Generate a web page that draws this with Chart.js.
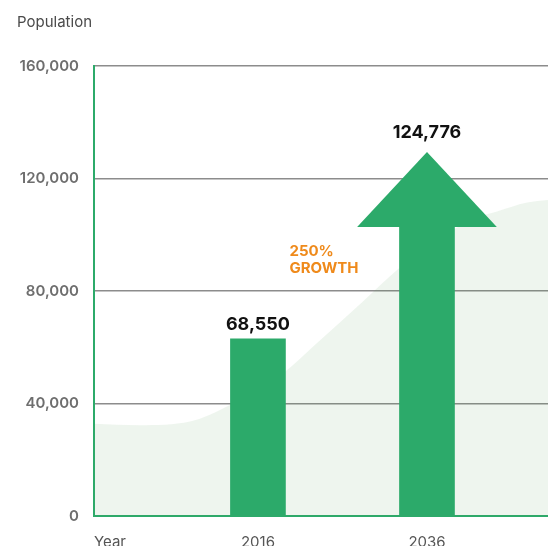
<!DOCTYPE html>
<html><head><meta charset="utf-8">
<script src="https://cdn.jsdelivr.net/npm/chart.js@4.4.0/dist/chart.umd.min.js"></script>
<style>
html,body{margin:0;padding:0;overflow:hidden;background:#fff;width:548px;height:546px}
#wrap{position:absolute;left:0;top:0;width:548px;height:560px}
</style>
</head><body><div id="wrap"><canvas id="c" width="548" height="560"></canvas></div>
<script>
// ---- data ----
const yAxisTitle = 'Population';
const xAxisTitle = 'Year';
const years = ['2016', '2036'];
const yearPositions = [1, 2];
const populationLabels = [68550, 124776];
const barTops = [63000, 102600];      // drawn height of 2016 bar and of the 2036 arrow shaft
const arrowTip = 129400;              // drawn tip of the 2036 arrow
const growthText = ['250%', 'GROWTH'];
const curveX = [0.030, 0.302, 0.598, 0.834, 1.160, 1.325, 1.621, 1.828, 2.077, 2.314, 2.414, 2.592, 2.716];
const curveY = [32800, 32300, 33600, 39500, 51300, 60200, 76300, 87700, 99000, 106500, 108300, 111500, 112400];
const yTicks = [0, 40000, 80000, 120000, 160000];
const xMin = 0.030, xMax = 2.716;

// ---- style ----
const GREEN = '#2CAA6A';
const ORANGE = '#EF8A1B';
const FONT = 'Inter, "Open Sans", sans-serif';
const HEAD_RATIO = 2.54;
const fmt = v => v.toLocaleString('en-US');

const overlay = {
  id: 'overlay',
  afterDatasetsDraw(chart) {
    const ctx = chart.ctx;
    const ys = chart.scales.y;
    const meta = chart.getDatasetMeta(1);
    const b0 = meta.data[0], b1 = meta.data[1];
    const half = b1.width * HEAD_RATIO / 2;
    const baseY = ys.getPixelForValue(barTops[1]) - 0.5;
    const tipY = ys.getPixelForValue(arrowTip);
    ctx.save();
    ctx.fillStyle = GREEN;
    ctx.beginPath();
    ctx.moveTo(b1.x - half, baseY);
    ctx.lineTo(b1.x, tipY);
    ctx.lineTo(b1.x + half, baseY);
    ctx.closePath();
    ctx.fill();
    ctx.font = '700 18px ' + FONT;
    ctx.fillStyle = '#111';
    ctx.textAlign = 'center';
    ctx.textBaseline = 'alphabetic';
    ctx.fillText(fmt(populationLabels[0]), b0.x, b0.y - 9);
    ctx.fillText(fmt(populationLabels[1]), b1.x, tipY - 14);
    ctx.font = '700 15px ' + FONT;
    ctx.fillStyle = ORANGE;
    ctx.textAlign = 'left';
    const gx = b0.x + b0.width / 2 + 4;
    ctx.fillText(growthText[0], gx, b0.y - 83);
    ctx.fillText(growthText[1], gx, b0.y - 66);
    ctx.restore();
  },
  afterDraw(chart) {
    const ctx = chart.ctx;
    ctx.save();
    ctx.font = '400 15px ' + FONT;
    ctx.fillStyle = '#4a4a4a';
    ctx.textAlign = 'left';
    ctx.textBaseline = 'alphabetic';
    ctx.fillText(yAxisTitle, 17, 27);
    ctx.restore();
  }
};

const xTickValues = [xMin, ...yearPositions, xMax];
const xTickLabels = [xAxisTitle, ...years, ''];

new Chart(document.getElementById('c'), {
  type: 'bar',
  data: {
    datasets: [
      {
        type: 'line',
        data: curveX.map((x, i) => ({ x, y: curveY[i] })),
        fill: 'origin',
        backgroundColor: 'rgba(85,155,85,0.1)',
        borderColor: 'rgba(0,0,0,0)',
        borderWidth: 0,
        pointRadius: 0,
        cubicInterpolationMode: 'monotone',
        order: 2
      },
      {
        type: 'bar',
        data: yearPositions.map((x, i) => ({ x, y: barTops[i] })),
        backgroundColor: GREEN,
        barThickness: 55,
        order: 1
      }
    ]
  },
  options: {
    responsive: false,
    animation: false,
    devicePixelRatio: 1,
    layout: { padding: { top: 66, left: 0, right: 0, bottom: 0 } },
    plugins: { legend: { display: false }, tooltip: { enabled: false } },
    scales: {
      x: {
        type: 'linear',
        offset: false,
        min: xMin, max: xMax,
        afterBuildTicks: s => { s.ticks = xTickValues.map(v => ({ value: v })); },
        afterFit: s => { s.height = 44; s.paddingLeft = 0; s.paddingRight = 0; },
        grid: { display: false, offset: false },
        border: { display: true, color: GREEN, width: 2 },
        ticks: {
          autoSkip: false, maxRotation: 0, align: 'inner', padding: 9,
          font: { family: FONT, size: 15, weight: '400' }, color: '#555',
          callback: (v, i) => xTickLabels[i]
        }
      },
      y: {
        min: 0, max: 160000,
        afterBuildTicks: s => { s.ticks = yTicks.map(v => ({ value: v })); },
        afterFit: s => { s.width = 94; },
        grid: {
          drawTicks: false, lineWidth: 1.5,
          color: c => (c.tick && c.tick.value === 0) ? 'rgba(0,0,0,0)' : '#8c8c8c'
        },
        border: { display: true, color: GREEN, width: 2 },
        ticks: {
          padding: 15,
          font: { family: FONT, size: 15, weight: '600' }, color: '#6e6e6e',
          callback: v => fmt(v)
        }
      }
    }
  },
  plugins: [overlay]
});
</script>
</body></html>
